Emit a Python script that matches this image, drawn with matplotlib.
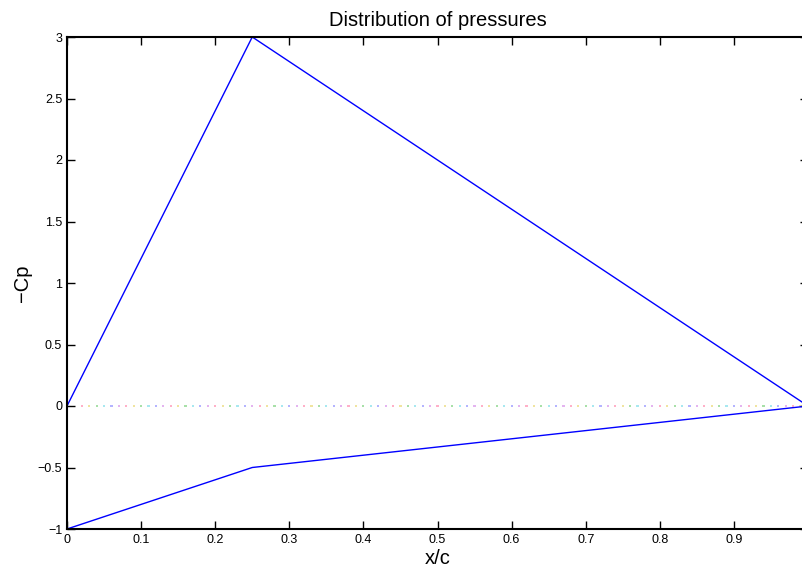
import matplotlib
matplotlib.use('Agg')
import matplotlib.pyplot as plt
import numpy as np

# upper and lower surface of -Cp distribution
x_upper = [0.0, 0.25, 1.0]
cp_upper = [0.0, 3.0, 0.0]
x_lower = [0.0, 0.25, 1.0]
cp_lower = [-1.0, -0.5, 0.0]

# faint dotted zero line, coloured dots
zero_x = np.arange(0.02, 1.0, 0.01)
dot_colors = ['#ffb0c8', '#f0e4a0', '#a8e0a8', '#a8e8f0', '#b4b4ff', '#e4b4f0']

x_ticks = [0, 0.1, 0.2, 0.3, 0.4, 0.5, 0.6, 0.7, 0.8, 0.9]
y_ticks = [-1, -0.5, 0, 0.5, 1, 1.5, 2, 2.5, 3]

plt.rcParams['font.family'] = ['Liberation Sans', 'DejaVu Sans']

fig = plt.figure(figsize=(8.02, 5.67), dpi=100)
ax = fig.add_axes([67 / 802, 38 / 567, 741 / 802, 492 / 567])

cols = [dot_colors[i % len(dot_colors)] for i in range(len(zero_x))]
ax.scatter(zero_x, np.zeros(len(zero_x)), s=2.5, c=cols, marker='s', linewidths=0, zorder=1)

ax.plot(x_upper, cp_upper, color='#0000ff', lw=1.0, zorder=2)
ax.plot(x_lower, cp_lower, color='#0000ff', lw=1.0, zorder=2)

ax.set_xlim(0, 1)
ax.set_ylim(-1, 3)
ax.set_xticks(x_ticks)
ax.set_xticklabels([('%g' % t) for t in x_ticks])
ax.set_yticks(y_ticks)
ax.set_yticklabels([('%g' % t).replace('-', '\u2212') for t in y_ticks])
ax.tick_params(direction='in', length=6, width=1, labelsize=9,
               top=True, right=True, pad=3.5)
for s in ax.spines.values():
    s.set_linewidth(1.5)

ax.set_title('Distribution of pressures', fontsize=14.5, pad=8)
ax.set_xlabel('x/c', fontsize=14.5, labelpad=2.5)
ax.set_ylabel('\u2212Cp', fontsize=14.5, labelpad=4)

fig.savefig('out.png', dpi=100)
